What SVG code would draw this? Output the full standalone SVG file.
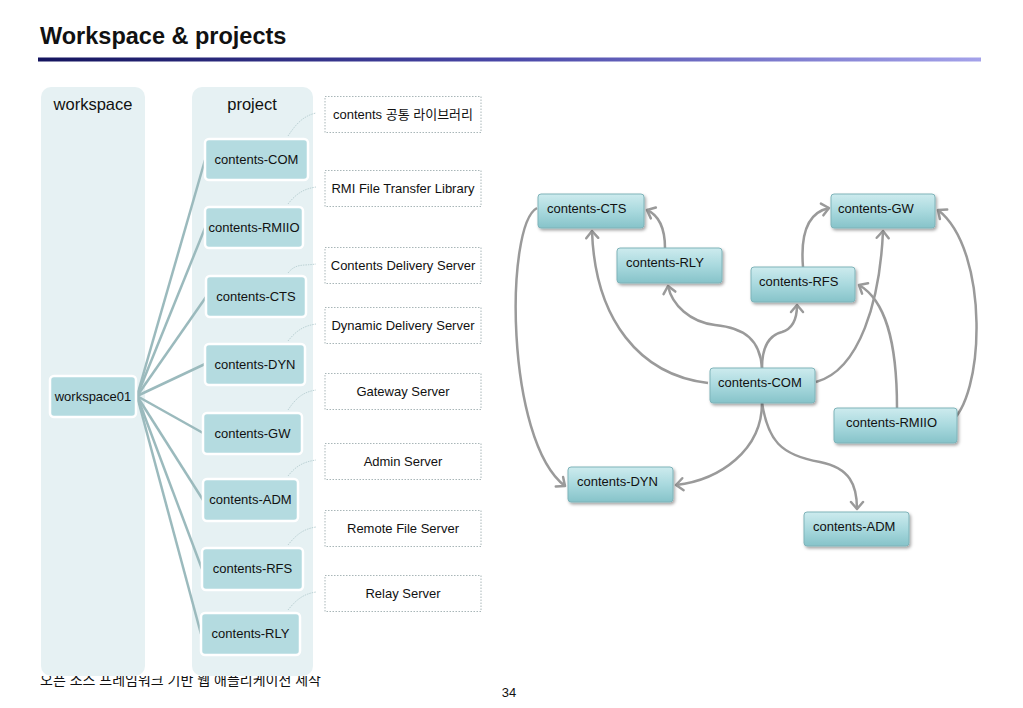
<svg xmlns="http://www.w3.org/2000/svg" width="1023" height="708" viewBox="0 0 1023 708">
<defs>
  <linearGradient id="rule" x1="0" y1="0" x2="1" y2="0">
    <stop offset="0" stop-color="#14145e"/>
    <stop offset="0.5" stop-color="#4a48a8"/>
    <stop offset="1" stop-color="#a4a2ea"/>
  </linearGradient>
  <linearGradient id="gnode" x1="0" y1="0" x2="0" y2="1">
    <stop offset="0" stop-color="#cdebee"/>
    <stop offset="0.5" stop-color="#a9d9de"/>
    <stop offset="1" stop-color="#86c3c9"/>
  </linearGradient>
  <filter id="shadow" x="-10%" y="-20%" width="130%" height="160%">
    <feDropShadow dx="1.5" dy="2" stdDeviation="1.5" flood-color="#000" flood-opacity="0.35"/>
  </filter>
  <marker id="arr" markerUnits="userSpaceOnUse" markerWidth="16" markerHeight="16" viewBox="-9 -8 11 16" refX="0" refY="0" orient="auto" overflow="visible">
    <path d="M -7 -6 L 0 0 L -7 6" fill="none" stroke="#9a9a9a" stroke-width="2.5" stroke-linecap="round" stroke-linejoin="round"/>
  </marker>
  <clipPath id="footclip"><rect x="0" y="676" width="1023" height="32"/></clipPath>
  <style>
    .t { font-family: "Liberation Sans", Arial, "Noto Sans CJK KR", sans-serif; fill: #111; }
    .col { fill: #e6f1f3; }
    .lnode { fill: #b4dbe0; stroke: #ffffff; stroke-width: 2.5; }
    .desc { fill: #ffffff; stroke: #a9b6b8; stroke-width: 1; stroke-dasharray: 1.5 1.5; }
    .dconn { fill: none; stroke: #bcd2d5; stroke-width: 1; stroke-dasharray: 1.5 1; }
    .wl { fill: none; stroke: #9bbabd; stroke-width: 2.5; }
    .rnode { fill: url(#gnode); stroke: #7fb3b9; stroke-width: 1; filter: url(#shadow); }
    .edge { fill: none; stroke: #9a9a9a; stroke-width: 2.5; marker-end: url(#arr); }
  </style>
</defs>

<rect width="1023" height="708" fill="#ffffff"/>

<!-- title -->
<text class="t" x="40" y="44" font-size="23.5" font-weight="bold">Workspace &amp; projects</text>
<rect x="38" y="57.5" width="943" height="4" fill="url(#rule)"/>

<!-- footer -->
<text class="t" x="40" y="685" font-size="14" fill="#333" clip-path="url(#footclip)">오픈 소스 프레임워크 기반 웹 애플리케이션 제작</text>
<text class="t" x="509" y="697" font-size="13" text-anchor="middle">34</text>

<!-- columns -->
<g id="workspace-col">
  <rect class="col" x="41" y="87" width="104" height="589" rx="10"/>
  <text class="t" x="93" y="110" font-size="16.5" text-anchor="middle">workspace</text>
</g>
<g id="project-col">
  <rect class="col" x="192" y="87" width="121" height="589" rx="10"/>
  <text class="t" x="252" y="110" font-size="16.5" text-anchor="middle">project</text>
</g>

<!-- left connectors -->
<g id="left-connectors">
  <path class="wl" d="M137 396 L205 160"/>
  <path class="wl" d="M137 396 L205 228"/>
  <path class="wl" d="M137 396 L206 297"/>
  <path class="wl" d="M137 396 L205 364"/>
  <path class="wl" d="M137 396 L203 433"/>
  <path class="wl" d="M137 396 L203 500"/>
  <path class="wl" d="M137 396 L202 569"/>
  <path class="wl" d="M137 396 L201 634"/>
  <path class="dconn" d="M288 136 C296 124 303 116 316 113"/>
  <path class="dconn" d="M288 204 C296 194 303 189 316 187"/>
  <path class="dconn" d="M288 273 C296 263 303 266 316 264"/>
  <path class="dconn" d="M288 341 C296 331 303 326 316 324"/>
  <path class="dconn" d="M288 410 C296 398 303 392 316 390"/>
  <path class="dconn" d="M288 476 C296 466 303 462 316 460"/>
  <path class="dconn" d="M288 545 C296 535 303 529 316 527"/>
  <path class="dconn" d="M288 610 C296 600 303 594 316 592"/>
</g>

<g id="workspace01">
  <rect class="lnode" x="50" y="376" width="86" height="41" rx="4"/>
  <text class="t" x="93" y="401" font-size="13" text-anchor="middle">workspace01</text>
</g>

<g id="p-com"><rect class="lnode" x="205" y="139" width="103" height="41" rx="4"/><text class="t" x="256.5" y="164" font-size="13" text-anchor="middle">contents-COM</text></g>
<g id="p-rmiio"><rect class="lnode" x="205" y="207" width="98" height="41" rx="4"/><text class="t" x="254" y="232" font-size="13" text-anchor="middle">contents-RMIIO</text></g>
<g id="p-cts"><rect class="lnode" x="206" y="276" width="100" height="41" rx="4"/><text class="t" x="256" y="301" font-size="13" text-anchor="middle">contents-CTS</text></g>
<g id="p-dyn"><rect class="lnode" x="205" y="344" width="100" height="41" rx="4"/><text class="t" x="255" y="369" font-size="13" text-anchor="middle">contents-DYN</text></g>
<g id="p-gw"><rect class="lnode" x="203" y="413" width="99" height="41" rx="4"/><text class="t" x="252.5" y="438" font-size="13" text-anchor="middle">contents-GW</text></g>
<g id="p-adm"><rect class="lnode" x="203" y="479" width="95" height="42" rx="4"/><text class="t" x="250.5" y="504" font-size="13" text-anchor="middle">contents-ADM</text></g>
<g id="p-rfs"><rect class="lnode" x="202" y="548" width="101" height="42" rx="4"/><text class="t" x="252.5" y="573" font-size="13" text-anchor="middle">contents-RFS</text></g>
<g id="p-rly"><rect class="lnode" x="201" y="613" width="99" height="42" rx="4"/><text class="t" x="250.5" y="638" font-size="13" text-anchor="middle">contents-RLY</text></g>

<!-- description boxes -->
<g id="d-com"><rect class="desc" x="325" y="96.5" width="156" height="36"/><text class="t" x="403" y="119" font-size="13" text-anchor="middle">contents 공통 라이브러리</text></g>
<g id="d-rmiio"><rect class="desc" x="325" y="170.5" width="156" height="36"/><text class="t" x="403" y="193" font-size="13" text-anchor="middle">RMI File Transfer Library</text></g>
<g id="d-cts"><rect class="desc" x="325" y="247.5" width="156" height="36"/><text class="t" x="403" y="270" font-size="13" text-anchor="middle">Contents Delivery Server</text></g>
<g id="d-dyn"><rect class="desc" x="325" y="307.5" width="156" height="36"/><text class="t" x="403" y="330" font-size="13" text-anchor="middle">Dynamic Delivery Server</text></g>
<g id="d-gw"><rect class="desc" x="325" y="373.5" width="156" height="36"/><text class="t" x="403" y="396" font-size="13" text-anchor="middle">Gateway Server</text></g>
<g id="d-adm"><rect class="desc" x="325" y="443.5" width="156" height="36"/><text class="t" x="403" y="466" font-size="13" text-anchor="middle">Admin Server</text></g>
<g id="d-rfs"><rect class="desc" x="325" y="510.5" width="156" height="36"/><text class="t" x="403" y="533" font-size="13" text-anchor="middle">Remote File Server</text></g>
<g id="d-rly"><rect class="desc" x="325" y="575.5" width="156" height="36"/><text class="t" x="403" y="598" font-size="13" text-anchor="middle">Relay Server</text></g>

<!-- dependency graph connectors -->
<g id="connectors">
  <path class="edge" d="M537 208 C505 225 505 440 565 486"/>
  <path class="edge" d="M665 248 C665 230 660 216 647 210"/>
  <path class="edge" d="M708 383 C640 375 595 320 592 231"/>
  <path class="edge" d="M762 368 C760 340 745 328 715 325 C690 322 672 305 668 286"/>
  <path class="edge" d="M762 368 C762 345 770 335 782 332 C795 328 797 315 797 305"/>
  <path class="edge" d="M816 382 C860 370 880 300 883 231"/>
  <path class="edge" d="M803 267 C800 230 810 212 829 208"/>
  <path class="edge" d="M897 408 C897 340 885 300 859 285"/>
  <path class="edge" d="M949 423 C985 400 990 250 938 210"/>
  <path class="edge" d="M762 403 C762 450 720 480 676 485"/>
  <path class="edge" d="M762 403 C768 440 780 455 820 462 C850 468 857 485 857 509"/>
</g>

<!-- dependency graph nodes -->
<g id="n-cts"><rect class="rnode" x="538" y="194" width="106" height="34" rx="3"/><text class="t" x="547" y="213" font-size="13">contents-CTS</text></g>
<g id="n-gw"><rect class="rnode" x="831" y="194" width="104" height="34" rx="3"/><text class="t" x="838" y="213" font-size="13">contents-GW</text></g>
<g id="n-rly"><rect class="rnode" x="617" y="248" width="105" height="35" rx="3"/><text class="t" x="626" y="267" font-size="13">contents-RLY</text></g>
<g id="n-rfs"><rect class="rnode" x="751" y="267" width="104" height="35" rx="3"/><text class="t" x="759" y="286" font-size="13">contents-RFS</text></g>
<g id="n-com"><rect class="rnode" x="710" y="368" width="105" height="35" rx="3"/><text class="t" x="718" y="387" font-size="13">contents-COM</text></g>
<g id="n-rmiio"><rect class="rnode" x="834" y="408" width="123" height="35" rx="3"/><text class="t" x="846" y="427" font-size="13">contents-RMIIO</text></g>
<g id="n-dyn"><rect class="rnode" x="568" y="467" width="105" height="35" rx="3"/><text class="t" x="577" y="486" font-size="13">contents-DYN</text></g>
<g id="n-adm"><rect class="rnode" x="804" y="512" width="105" height="34" rx="3"/><text class="t" x="813" y="531" font-size="13">contents-ADM</text></g>
</svg>
